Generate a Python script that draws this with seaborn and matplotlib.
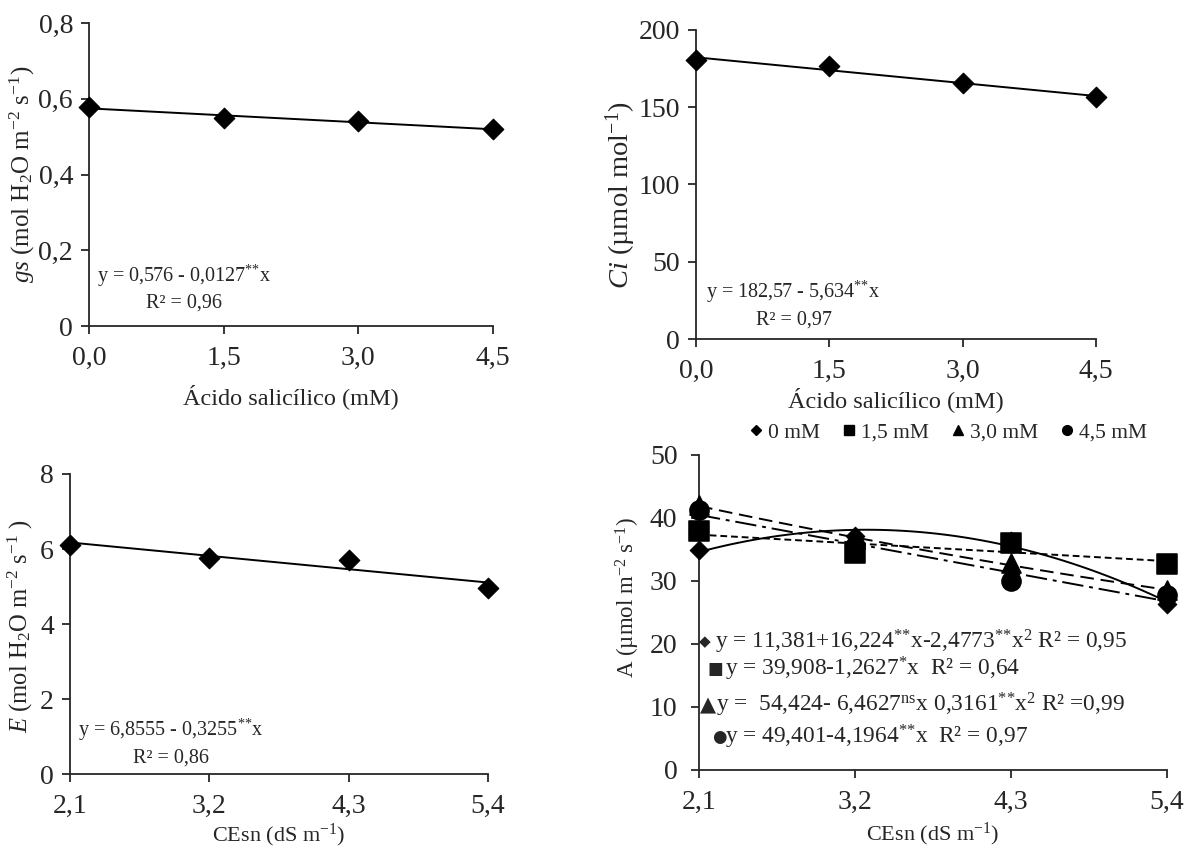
import numpy as np
import pandas as pd
import seaborn as sns
import matplotlib.pyplot as plt
from matplotlib.lines import Line2D

# values
sa_dose = [0.0, 1.5, 3.0, 4.5]
sa_labels = ['0,0', '1,5', '3,0', '4,5']
gs_vals = [0.578, 0.550, 0.540, 0.520]
ci_vals = [180.6, 176.5, 165.6, 156.4]

ce = [2.1, 3.2, 4.3, 5.4]
ce_labels = ['2,1', '3,2', '4,3', '5,4']
e_vals = [6.12, 5.77, 5.72, 4.95]

a_0 = [34.9, 37.2, 36.4, 26.4]
a_15 = [37.9, 34.4, 36.0, 32.7]
a_30 = [42.0, 36.6, 32.8, 28.5]
a_45 = [41.2, 35.5, 30.0, 27.8]

sns.set_style('ticks')
plt.rcParams['font.family'] = ['Liberation Serif', 'DejaVu Sans']
plt.rcParams['mathtext.fontset'] = 'custom'
plt.rcParams['mathtext.rm'] = 'Liberation Serif'
plt.rcParams['mathtext.it'] = 'Liberation Serif:italic'
plt.rcParams['mathtext.bf'] = 'Liberation Serif:bold'
plt.rcParams['axes.linewidth'] = 1.3
plt.rcParams['xtick.major.width'] = 1.3
plt.rcParams['ytick.major.width'] = 1.3
plt.rcParams['xtick.major.size'] = 5.5
plt.rcParams['ytick.major.size'] = 5.5
plt.rcParams['xtick.major.pad'] = 9
plt.rcParams['ytick.major.pad'] = 6
plt.rcParams['xtick.labelsize'] = 20
plt.rcParams['ytick.labelsize'] = 20

fig = plt.figure(figsize=(11.92, 8.49), dpi=100)
ax1 = fig.add_axes([0.0747, 0.616, 0.3389, 0.3569])
ax2 = fig.add_axes([0.5839, 0.6007, 0.3356, 0.364])
ax3 = fig.add_axes([0.0587, 0.0883, 0.3507, 0.3534])
ax4 = fig.add_axes([0.5864, 0.0931, 0.3926, 0.371])

line_kw = dict(color='black', lw=1.4)
sup2 = r'$^{\mathrm{*}\mathrm{*}}$'


def simple_panel(ax, x, y, xticks, xlabels, yticks, ylabels):
    sns.regplot(x=x, y=y, ax=ax, ci=None, scatter=False, truncate=True,
                line_kws=line_kw)
    sns.scatterplot(x=x, y=y, ax=ax, marker='D', s=110, color='black',
                    edgecolor='black', clip_on=False, zorder=5)
    ax.set_xlim(xticks[0], xticks[-1])
    ax.set_ylim(yticks[0], yticks[-1])
    ax.set_xticks(xticks)
    ax.set_xticklabels(xlabels)
    ax.set_yticks(yticks)
    ax.set_yticklabels(ylabels)
    sns.despine(ax=ax)


simple_panel(ax1, sa_dose, gs_vals, sa_dose, sa_labels,
             [0, 0.2, 0.4, 0.6, 0.8], ['0', '0,2', '0,4', '0,6', '0,8'])
ax1.set_xlabel('Ácido salicílico (mM)', fontsize=17.5, labelpad=9)
ax1.set_ylabel(r'$\it{gs}$ (mol H$_2$O m$^{-2}$ s$^{-1}$)', fontsize=18)
ax1.yaxis.set_label_coords(-0.13, 0.5)
ax1.text(0.02, 0.165, 'y = 0,576 - 0,0127' + sup2 + 'x', transform=ax1.transAxes,
         fontsize=14.5, va='center')
ax1.text(0.14, 0.075, 'R² = 0,96', transform=ax1.transAxes, fontsize=14.5, va='center')

simple_panel(ax2, sa_dose, ci_vals, sa_dose, sa_labels,
             [0, 50, 100, 150, 200], ['0', '50', '100', '150', '200'])
ax2.set_xlabel('Ácido salicílico (mM)', fontsize=17.5, labelpad=2)
ax2.set_ylabel(r'$\it{Ci}$ (µmol mol$^{-1}$)', fontsize=20.5)
ax2.yaxis.set_label_coords(-0.145, 0.466)
ax2.text(0.025, 0.152, 'y = 182,57 - 5,634' + sup2 + 'x', transform=ax2.transAxes,
         fontsize=14.5, va='center')
ax2.text(0.15, 0.062, 'R² = 0,97', transform=ax2.transAxes, fontsize=14.5, va='center')

simple_panel(ax3, ce, e_vals, ce, ce_labels,
             [0, 2, 4, 6, 8], ['0', '2', '4', '6', '8'])
ax3.set_xlabel(r'CEsn (dS m$^{-1}$)', fontsize=16, labelpad=2)
ax3.set_ylabel(r'$\it{E}$ (mol H$_2$O m$^{-2}$ s$^{-1}$ )', fontsize=17.7)
ax3.yaxis.set_label_coords(-0.083, 0.493)
ax3.text(0.02, 0.147, 'y = 6,8555 - 0,3255' + sup2 + 'x', transform=ax3.transAxes,
         fontsize=14.5, va='center')
ax3.text(0.15, 0.053, 'R² = 0,86', transform=ax3.transAxes, fontsize=14.5, va='center')

# panel A: four doses of salicylic acid
series = [
    ('0 mM', a_0, 'D', 90, 2, '-'),
    ('1,5 mM', a_15, 's', 200, 1, (0, (3.5, 2))),
    ('3,0 mM', a_30, '^', 190, 2, (0, (7, 3.5))),
    ('4,5 mM', a_45, 'o', 190, 1, (0, (11, 3, 2, 3))),
]
for name, vals, mk, size, order, ls in series:
    sns.regplot(x=ce, y=vals, ax=ax4, order=order, ci=None, scatter=False,
                truncate=True, line_kws=dict(color='black', lw=1.4, linestyle=ls))
for name, vals, mk, size, order, ls in series:
    sns.scatterplot(x=ce, y=vals, ax=ax4, marker=mk, s=size, color='black',
                    edgecolor='black', clip_on=False, zorder=5)
ax4.set_xlim(2.1, 5.4)
ax4.set_ylim(0, 50)
ax4.set_xticks(ce)
ax4.set_xticklabels(ce_labels)
ax4.set_yticks([0, 10, 20, 30, 40, 50])
ax4.set_yticklabels(['0', '10', '20', '30', '40', '50'])
ax4.tick_params(axis='y', pad=10)
sns.despine(ax=ax4)
ax4.set_xlabel(r'CEsn (dS m$^{-1}$)', fontsize=16, labelpad=4)
ax4.set_ylabel(r'A (µmol m$^{-2}$ s$^{-1}$)', fontsize=16.5)
ax4.yaxis.set_label_coords(-0.122, 0.549)

handles = [Line2D([], [], marker=mk, color='black', linestyle='none',
                  markersize=ms, label=name)
           for (name, _, mk, _, _, _), ms in zip(series, [5, 7, 6.5, 7])]
ax4.legend(handles=handles, loc='lower center', bbox_to_anchor=(0.528, 0.998),
           ncol=4, frameon=False, fontsize=15.5, handletextpad=0.05,
           handlelength=1.0, columnspacing=0.85, borderaxespad=0.2)

eq_font = dict(fontsize=16.8, va='center', transform=ax4.transAxes)
sym_font = dict(va='center', ha='center', transform=ax4.transAxes,
                family='DejaVu Sans')
ax4.text(0.013, 0.407, '◆', fontsize=11, **sym_font)
ax4.text(0.034, 0.407, 'y = 11,381+16,224' + sup2 + 'x-2,4773' + sup2 + r'x$^2$ R² = 0,95', **eq_font)
ax4.text(0.034, 0.321, '■', fontsize=12, **sym_font)
ax4.text(0.056, 0.321, r'y = 39,908-1,2627$^{\mathrm{*}}$x  R² = 0,64', **eq_font)
ax4.text(0.019, 0.206, '▲', fontsize=15, **sym_font)
ax4.text(0.037, 0.206, r'y =  54,424- 6,4627$^{\mathrm{ns}}$x 0,3161' + sup2 + r'x$^2$ R² =0,99', **eq_font)
ax4.text(0.043, 0.105, '●', fontsize=12, **sym_font)
ax4.text(0.056, 0.105, 'y = 49,401-4,1964' + sup2 + 'x  R² = 0,97', **eq_font)

plt.savefig('out.png', dpi=100)
